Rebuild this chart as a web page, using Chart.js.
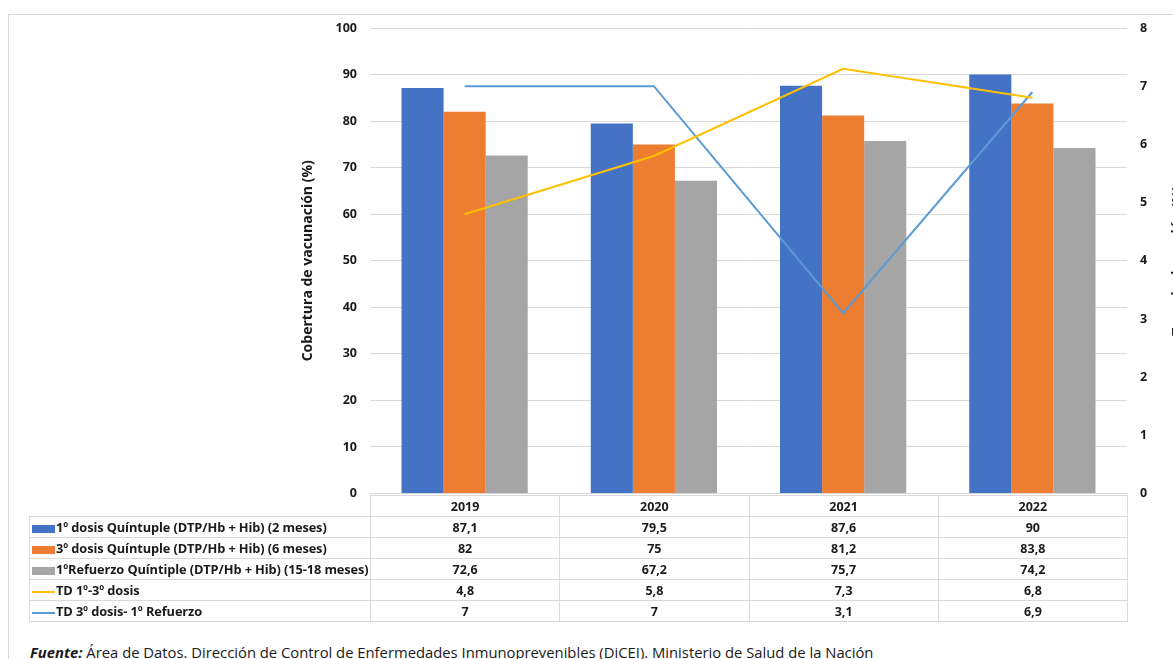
<!DOCTYPE html>
<html>
<head>
<meta charset="utf-8">
<script src="https://cdn.jsdelivr.net/npm/chart.js@4"></script>
<style>
  body { margin: 0; background: #fff; font-family: "Open Sans", sans-serif; }
  #wrap { position: relative; width: 1173px; height: 659px; overflow: hidden; }
  #frame { position: absolute; left: 8px; top: 14px; width: 1200px; height: 700px; border-left: 1px solid #d9d9d9; border-top: 1px solid #d9d9d9; }
  #chart { position: absolute; left: 0; top: 0; }
  #tbl { position: absolute; left: 29px; top: 495px; border-collapse: collapse; table-layout: fixed; font-weight: bold; font-size: 12.5px; color: #1a1a1a; }
  #tbl td { height: 20px; padding: 0; border: 1px solid #d9d9d9; text-align: center; white-space: nowrap; }
  #tbl td.lab { text-align: left; padding-left: 2px; font-size: 12.8px; letter-spacing: -0.1px; }
  #tbl td.blank { border: none; border-right: 1px solid #d9d9d9; }
  .key { display: inline-block; width: 23px; vertical-align: middle; margin-right: 1px; }
  #note { position: absolute; left: 30px; top: 642px; font-size: 14.8px; color: #1a1a1a; white-space: nowrap; }
</style>
</head>
<body>
<div id="wrap">
  <div id="frame"></div>
  <canvas id="chart" width="1173" height="514"></canvas>
  <table id="tbl"></table>
  <div id="note"><b><i>Fuente:</i></b> Área de Datos. Dirección de Control de Enfermedades Inmunoprevenibles (DiCEI). Ministerio de Salud de la Nación</div>
</div>
<script>
const years = ['2019', '2020', '2021', '2022'];
const dosis1 = [87.1, 79.5, 87.6, 90];
const dosis3 = [82, 75, 81.2, 83.8];
const refuerzo = [72.6, 67.2, 75.7, 74.2];
const td13 = [4.8, 5.8, 7.3, 6.8];
const td3R = [7, 7, 3.1, 6.9];
const leftTicks = [0, 10, 20, 30, 40, 50, 60, 70, 80, 90, 100];
const rightTicks = [0, 1, 2, 3, 4, 5, 6, 7, 8];

const series = [
  { label: '1º dosis Quíntuple (DTP/Hb + Hib) (2 meses)', data: dosis1, color: '#4472C4', kind: 'bar' },
  { label: '3º dosis Quíntuple (DTP/Hb + Hib) (6 meses)', data: dosis3, color: '#ED7D31', kind: 'bar' },
  { label: '1ºRefuerzo Quíntiple (DTP/Hb + Hib) (15-18 meses)', data: refuerzo, color: '#A5A5A5', kind: 'bar' },
  { label: 'TD 1º-3º dosis', data: td13, color: '#FFC000', kind: 'line' },
  { label: 'TD 3º dosis- 1º Refuerzo', data: td3R, color: '#5B9BD5', kind: 'line' }
];

const fmt = v => String(v).replace('.', ',');
const boldFont = { family: 'Open Sans', weight: 'bold', size: 12.5 };

// right axis title, reads bottom to top and gets cut by the edge like the original
const rightTitle = {
  id: 'rightTitle',
  afterDraw(chart) {
    const ctx = chart.ctx;
    const a = chart.chartArea;
    ctx.save();
    ctx.translate(1178, (a.top + a.bottom) / 2);
    ctx.rotate(-Math.PI / 2);
    ctx.font = 'bold 14px "Open Sans"';
    ctx.fillStyle = '#1a1a1a';
    ctx.textAlign = 'center';
    ctx.textBaseline = 'middle';
    ctx.fillText('Tasa de deserción (%)', 0, 0);
    ctx.restore();
  }
};

const chart = new Chart(document.getElementById('chart'), {
  data: {
    labels: years,
    datasets: series.map(s => s.kind === 'bar' ? {
      type: 'bar', label: s.label, data: s.data, backgroundColor: s.color,
      yAxisID: 'y', categoryPercentage: 0.667, barPercentage: 1, order: 2
    } : {
      type: 'line', label: s.label, data: s.data, borderColor: s.color, backgroundColor: s.color,
      borderWidth: 2, pointRadius: 0, tension: 0, yAxisID: 'y1', order: 1
    })
  },
  options: {
    responsive: false,
    animation: false,
    layout: { padding: { left: 300, right: 0, top: 28, bottom: 6 } },
    plugins: { legend: { display: false }, tooltip: { enabled: false } },
    scales: {
      x: {
        ticks: { display: false },
        grid: { display: false },
        border: { color: '#d9d9d9' }
      },
      y: {
        position: 'left', min: 0, max: 100,
        afterFit: s => { s.width = 70; },
        afterBuildTicks: s => { s.ticks = leftTicks.map(v => ({ value: v })); },
        ticks: { padding: 13, color: '#1a1a1a', font: boldFont },
        grid: { color: '#d9d9d9', drawTicks: false },
        border: { display: false },
        title: { display: true, text: 'Cobertura de vacunación (%)', color: '#1a1a1a', font: { family: 'Open Sans', weight: 'bold', size: 14 }, padding: 0 }
      },
      y1: {
        position: 'right', min: 0, max: 8,
        afterFit: s => { s.width = 46; },
        afterBuildTicks: s => { s.ticks = rightTicks.map(v => ({ value: v })); },
        ticks: { padding: 13, color: '#1a1a1a', font: boldFont },
        grid: { drawOnChartArea: false, drawTicks: false },
        border: { display: false }
      }
    }
  },
  plugins: [rightTitle]
});

// data table under the plot, columns follow the chart area
const area = chart.chartArea;
const tbl = document.getElementById('tbl');
const colW = (area.right - area.left) / years.length;
let html = '<colgroup><col style="width:' + (area.left - 29) + 'px">' +
  years.map(() => '<col style="width:' + colW + 'px">').join('') + '</colgroup>';
html += '<tr><td class="blank"></td>' + years.map(y => '<td>' + y + '</td>').join('') + '</tr>';
series.forEach(s => {
  const key = s.kind === 'bar'
    ? '<span class="key" style="height:8px;background:' + s.color + '"></span>'
    : '<span class="key" style="height:2px;background:' + s.color + '"></span>';
  html += '<tr><td class="lab">' + key + s.label + '</td>' + s.data.map(v => '<td>' + fmt(v) + '</td>').join('') + '</tr>';
});
tbl.innerHTML = html;
</script>
</body>
</html>
